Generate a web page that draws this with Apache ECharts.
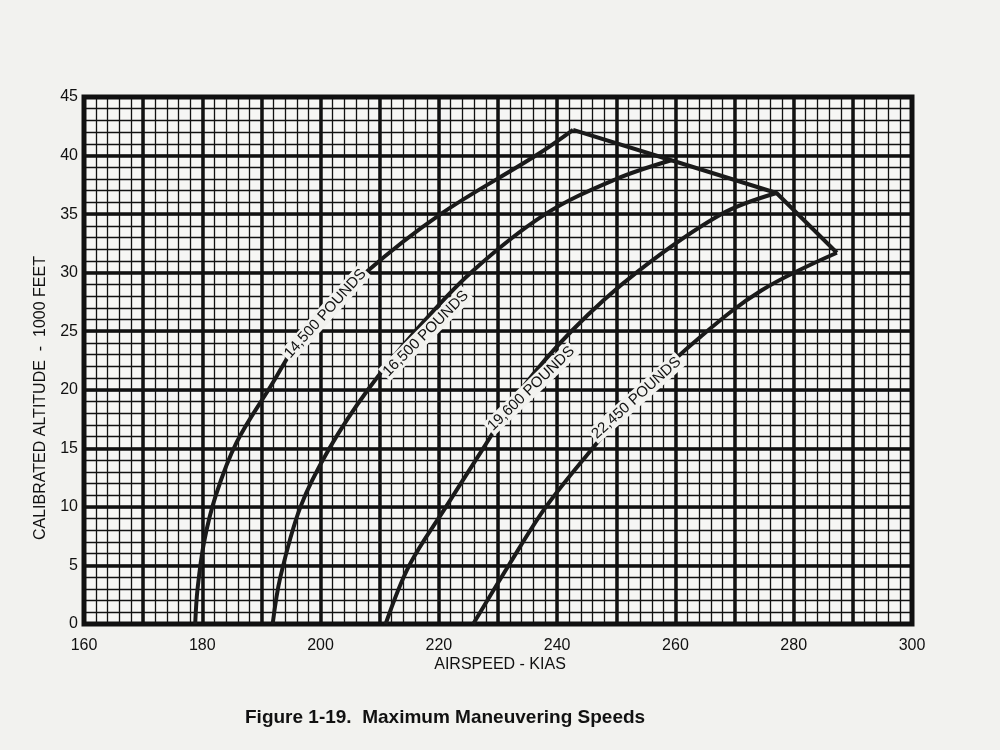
<!DOCTYPE html>
<html><head><meta charset="utf-8">
<script src="https://cdn.jsdelivr.net/npm/echarts@6/dist/echarts.min.js"></script>
<style>html,body{margin:0;background:#f2f2ef}#c{width:1000px;height:750px}</style>
</head><body><div id="c"></div>
<script>
const xTicks=[160,180,200,220,240,260,280,300];
const yTicks=[0,5,10,15,20,25,30,35,40,45];
const s14500=[[178.8,0],[179.2,3],[180.3,7],[182.3,11],[185.8,15.5],[191.2,20],[197.5,25],[207.6,30],[220.3,35],[236.4,40],[242.7,42.2]];
const s16500=[[191.9,0],[193.2,4],[196.6,10],[201.5,15],[208,20],[216,25],[225.4,30],[238,35],[250,38],[259.3,39.6]];
const s19600=[[211,0],[215,5],[221.2,10],[227.5,15],[233.9,20],[242.4,25],[253.4,30],[267.8,35],[277.1,36.8]];
const s22450=[[225.8,0],[231.8,5],[238.1,10],[246,15],[254.6,20],[264.4,24.6],[274.6,28.5],[287.3,31.7]];
const envelope=[[242.7,42.2],[259.3,39.6],[277.1,36.8],[287.3,31.7]];
const labels=[["14,500 POUNDS",200.8,26.5,48],["16,500 POUNDS",217.8,24.8,45],["19,600 POUNDS",235.6,20.1,44],["22,450 POUNDS",253.4,19.3,42]];
const curves=[s14500,s16500,s19600,s22450];
const ch=echarts.init(document.getElementById('c'));
const axX=(show,int,w)=>({type:'value',min:160,max:300,interval:int,position:'bottom',
  axisLine:{show:false},axisTick:{show:false},
  axisLabel:{show:show,color:'#111',fontSize:16,fontFamily:'Liberation Sans',margin:14},
  splitLine:{show:true,lineStyle:{color:'#111',width:w}}});
const axY=(show,int,w)=>({type:'value',min:0,max:45,interval:int,position:'left',
  axisLine:{show:false},axisTick:{show:false},
  axisLabel:{show:show,color:'#111',fontSize:16,fontFamily:'Liberation Sans',margin:6},
  splitLine:{show:true,lineStyle:{color:'#111',width:w}}});
const series=curves.map((d,i)=>({type:'line',data:d,smooth:0.35,symbol:'none',
  lineStyle:{color:'#1a1a1a',width:4},xAxisIndex:1,yAxisIndex:1,
  markPoint:{symbol:'circle',symbolSize:1,itemStyle:{color:'transparent'},
    data:[{coord:[labels[i][1],labels[i][2]],
      label:{show:true,formatter:labels[i][0],rotate:labels[i][3],color:'#111',fontSize:15,
        fontFamily:'Liberation Sans',backgroundColor:'#f2f2ef',padding:[1,2]}}]}}));
series.push({type:'line',data:envelope,symbol:'none',lineStyle:{color:'#1a1a1a',width:4},xAxisIndex:1,yAxisIndex:1});
ch.setOption({
  backgroundColor:'#f2f2ef',animation:false,
  grid:{left:84,right:88,top:97,bottom:126,show:true,borderColor:'#111',borderWidth:5,backgroundColor:'#f6f6f4'},
  xAxis:[axX(false,2,1.3),axX(true,20,0),axX(false,10,3.5)],
  yAxis:[axY(false,1,1.3),axY(true,5,0),axY(false,5,3.5)],
  series:series,
  graphic:[
    {type:'text',left:'center',top:657,style:{text:'AIRSPEED - KIAS',fontSize:16,fill:'#111',fontFamily:'Liberation Sans'}},
    {type:'text',x:33,y:540,rotation:Math.PI/2,style:{text:'CALIBRATED ALTITUDE  -  1000 FEET',fontSize:16,fill:'#111',fontFamily:'Liberation Sans'}},
    {type:'text',x:245,y:708,style:{text:'Figure 1-19.  Maximum Maneuvering Speeds',fontSize:19,fontWeight:'bold',fill:'#111',fontFamily:'Liberation Sans'}}
  ]
});
</script></body></html>
